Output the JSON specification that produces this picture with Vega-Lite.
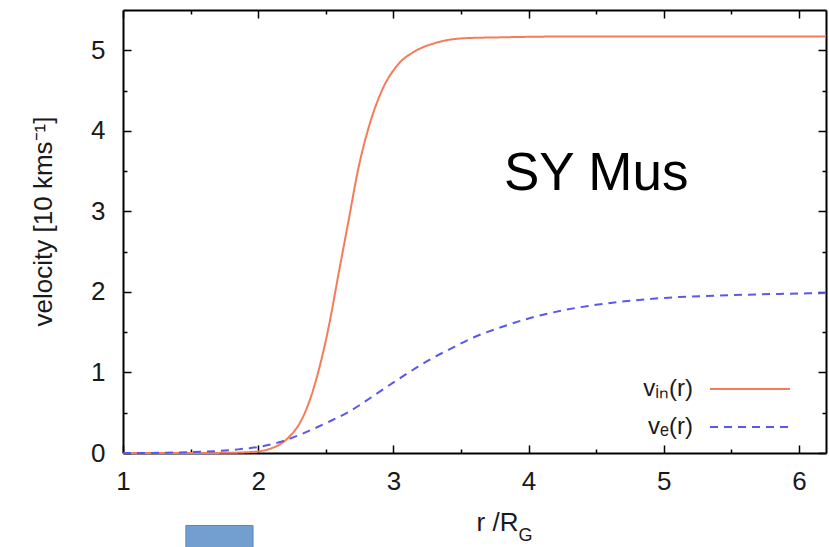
{
  "$schema": "https://vega.github.io/schema/vega-lite/v6.json",
  "width": 703,
  "height": 443,
  "autosize": "none",
  "padding": {"left": 123, "top": 10, "right": 3, "bottom": 94},
  "background": "white",
  "config": {
    "view": {"stroke": null},
    "axis": {
      "domainColor": "black",
      "domainWidth": 2,
      "tickColor": "black",
      "tickWidth": 1.5,
      "grid": false,
      "labelFont": "Liberation Sans",
      "labelFontSize": 26,
      "labelColor": "#1a1a1a",
      "labelFlush": false,
      "labelOverlap": false,
      "titleFont": "Liberation Sans",
      "titleFontSize": 26,
      "titleFontWeight": "normal",
      "titleColor": "#1a1a1a"
    },
    "legend": {
      "orient": "none",
      "legendX": 615,
      "legendY": 367,
      "padding": 0,
      "labelFont": "Liberation Sans",
      "labelFontSize": 24,
      "labelColor": "#1a1a1a",
      "labelAlign": "right",
      "labelBaseline": "middle",
      "labelOffset": -69,
      "labelLimit": 0,
      "symbolType": "M-4,0H4",
      "symbolSize": 400,
      "symbolStrokeWidth": 2,
      "rowPadding": 14
    }
  },
  "datasets": {
    "curves": [
      {"series": "vᵢₙ(r)", "r": 1.0, "v": 0},
      {"series": "vᵢₙ(r)", "r": 1.5, "v": 0},
      {"series": "vᵢₙ(r)", "r": 1.8, "v": 0.003},
      {"series": "vᵢₙ(r)", "r": 1.9, "v": 0.008},
      {"series": "vᵢₙ(r)", "r": 2.0, "v": 0.02},
      {"series": "vᵢₙ(r)", "r": 2.1, "v": 0.06},
      {"series": "vᵢₙ(r)", "r": 2.177, "v": 0.124},
      {"series": "vᵢₙ(r)", "r": 2.24, "v": 0.22},
      {"series": "vᵢₙ(r)", "r": 2.3, "v": 0.35},
      {"series": "vᵢₙ(r)", "r": 2.374, "v": 0.62},
      {"series": "vᵢₙ(r)", "r": 2.448, "v": 1.03},
      {"series": "vᵢₙ(r)", "r": 2.522, "v": 1.57},
      {"series": "vᵢₙ(r)", "r": 2.595, "v": 2.23},
      {"series": "vᵢₙ(r)", "r": 2.669, "v": 2.89},
      {"series": "vᵢₙ(r)", "r": 2.743, "v": 3.55},
      {"series": "vᵢₙ(r)", "r": 2.817, "v": 4.04},
      {"series": "vᵢₙ(r)", "r": 2.915, "v": 4.5},
      {"series": "vᵢₙ(r)", "r": 3.038, "v": 4.83},
      {"series": "vᵢₙ(r)", "r": 3.162, "v": 4.99},
      {"series": "vᵢₙ(r)", "r": 3.309, "v": 5.09},
      {"series": "vᵢₙ(r)", "r": 3.53, "v": 5.15},
      {"series": "vᵢₙ(r)", "r": 3.776, "v": 5.16},
      {"series": "vᵢₙ(r)", "r": 4.2, "v": 5.17},
      {"series": "vᵢₙ(r)", "r": 5.0, "v": 5.17},
      {"series": "vᵢₙ(r)", "r": 6.2, "v": 5.17},
      {"series": "vₑ(r)", "r": 1.0, "v": 0},
      {"series": "vₑ(r)", "r": 1.3, "v": 0.003},
      {"series": "vₑ(r)", "r": 1.5, "v": 0.01},
      {"series": "vₑ(r)", "r": 1.7, "v": 0.025},
      {"series": "vₑ(r)", "r": 1.85, "v": 0.045},
      {"series": "vₑ(r)", "r": 1.93, "v": 0.06},
      {"series": "vₑ(r)", "r": 2.0, "v": 0.075},
      {"series": "vₑ(r)", "r": 2.177, "v": 0.144},
      {"series": "vₑ(r)", "r": 2.3, "v": 0.22},
      {"series": "vₑ(r)", "r": 2.423, "v": 0.31},
      {"series": "vₑ(r)", "r": 2.55, "v": 0.41},
      {"series": "vₑ(r)", "r": 2.669, "v": 0.51},
      {"series": "vₑ(r)", "r": 2.8, "v": 0.65},
      {"series": "vₑ(r)", "r": 2.915, "v": 0.78},
      {"series": "vₑ(r)", "r": 3.04, "v": 0.92},
      {"series": "vₑ(r)", "r": 3.162, "v": 1.05},
      {"series": "vₑ(r)", "r": 3.28, "v": 1.17},
      {"series": "vₑ(r)", "r": 3.407, "v": 1.28},
      {"series": "vₑ(r)", "r": 3.6, "v": 1.44},
      {"series": "vₑ(r)", "r": 3.776, "v": 1.55},
      {"series": "vₑ(r)", "r": 4.0, "v": 1.67},
      {"series": "vₑ(r)", "r": 4.25, "v": 1.77},
      {"series": "vₑ(r)", "r": 4.5, "v": 1.84},
      {"series": "vₑ(r)", "r": 4.75, "v": 1.89},
      {"series": "vₑ(r)", "r": 5.0, "v": 1.925},
      {"series": "vₑ(r)", "r": 5.5, "v": 1.96},
      {"series": "vₑ(r)", "r": 6.0, "v": 1.98},
      {"series": "vₑ(r)", "r": 6.2, "v": 1.985}
    ],
    "label": [{"text": "SY Mus", "r": 4.5, "v": 3.26}],
    "sub": [{"text": "G", "r": 3.925, "v": -1.09}],
    "box": [{"r1": 1.465, "r2": 1.962, "v1": -0.9, "v2": -1.2}]
  },
  "layer": [
    {
      "data": {"name": "curves"},
      "mark": {"type": "line", "interpolate": "monotone", "strokeWidth": 2},
      "encoding": {
        "x": {
          "field": "r", "type": "quantitative",
          "scale": {"domain": [1, 6.2], "nice": false, "zero": false},
          "axis": {
            "orient": "bottom",
            "values": [1, 1.5, 2, 2.5, 3, 3.5, 4, 4.5, 5, 5.5, 6],
            "labelExpr": "datum.value % 1 === 0 ? format(datum.value, 'd') : ''",
            "tickSize": {"condition": {"test": "datum.value % 1 === 0", "value": -8}, "value": -4},
            "labelPadding": 23,
            "title": "r /R",
            "titleX": 374,
            "titleY": 77,
            "titleAlign": "center",
            "titleBaseline": "alphabetic"
          }
        },
        "y": {
          "field": "v", "type": "quantitative",
          "scale": {"domain": [0, 5.5], "nice": false},
          "axis": {
            "orient": "left",
            "values": [0, 0.5, 1, 1.5, 2, 2.5, 3, 3.5, 4, 4.5, 5],
            "labelExpr": "datum.value % 1 === 0 ? format(datum.value, 'd') : ''",
            "tickSize": {"condition": {"test": "datum.value % 1 === 0", "value": -8}, "value": -4},
            "labelPadding": 26,
            "title": "velocity [10 kms⁻¹]",
            "titleX": -80,
            "titleY": 211,
            "titleAngle": -90,
            "titleAlign": "center",
            "titleBaseline": "middle"
          }
        },
        "color": {
          "field": "series", "type": "nominal",
          "scale": {"domain": ["vᵢₙ(r)", "vₑ(r)"], "range": ["#f47c5a", "#5858ea"]},
          "legend": {"title": null}
        },
        "strokeDash": {
          "field": "series", "type": "nominal",
          "scale": {"domain": ["vᵢₙ(r)", "vₑ(r)"], "range": [[1, 0], [8, 6]]},
          "legend": {"title": null}
        }
      }
    },
    {
      "data": {"name": "label"},
      "mark": {"type": "text", "font": "Liberation Sans", "fontSize": 53, "align": "center", "baseline": "alphabetic", "color": "black"},
      "encoding": {
        "x": {
          "field": "r", "type": "quantitative",
          "axis": {
            "orient": "top",
            "values": [1, 1.5, 2, 2.5, 3, 3.5, 4, 4.5, 5, 5.5, 6],
            "labels": false,
            "title": null,
            "tickSize": {"condition": {"test": "datum.value % 1 === 0", "value": -8}, "value": -4}
          }
        },
        "y": {
          "field": "v", "type": "quantitative",
          "axis": {
            "orient": "right",
            "values": [0, 0.5, 1, 1.5, 2, 2.5, 3, 3.5, 4, 4.5, 5],
            "labels": false,
            "title": null,
            "tickSize": {"condition": {"test": "datum.value % 1 === 0", "value": -8}, "value": -4}
          }
        },
        "text": {"field": "text"}
      }
    },
    {
      "data": {"name": "sub"},
      "mark": {"type": "text", "font": "Liberation Sans", "fontSize": 18, "align": "left", "baseline": "alphabetic", "color": "#1a1a1a"},
      "encoding": {
        "x": {"field": "r", "type": "quantitative", "axis": null},
        "y": {"field": "v", "type": "quantitative", "axis": null},
        "text": {"field": "text"}
      }
    },
    {
      "data": {"name": "box"},
      "mark": {"type": "rect", "fill": "#729fcf", "stroke": "#5b87bf", "strokeWidth": 1},
      "encoding": {
        "x": {"field": "r1", "type": "quantitative", "axis": null},
        "x2": {"field": "r2"},
        "y": {"field": "v1", "type": "quantitative", "axis": null},
        "y2": {"field": "v2"}
      }
    }
  ],
  "resolve": {"axis": {"x": "independent", "y": "independent"}}
}
